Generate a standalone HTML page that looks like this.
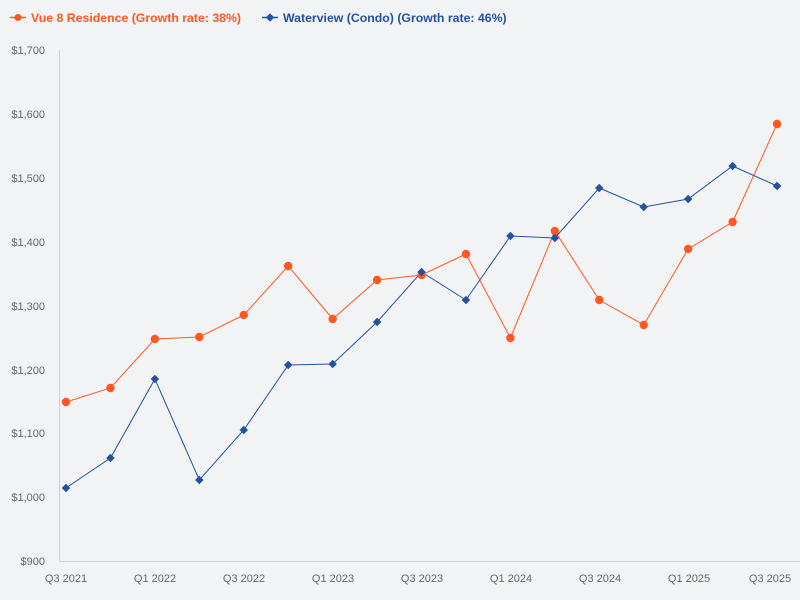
<!DOCTYPE html>
<html><head><meta charset="utf-8"><style>
html,body{margin:0;padding:0;background:#f2f3f5;width:800px;height:600px;overflow:hidden}
svg{display:block;font-family:"Liberation Sans","DejaVu Sans",sans-serif}
</style></head><body>
<svg id="c" width="800" height="600" xmlns="http://www.w3.org/2000/svg">
<rect width="800" height="600" fill="#f2f3f5"/>
<line x1="59.5" y1="50" x2="59.5" y2="561.5" stroke="#c5d3e3" stroke-width="1"/>
<line x1="59.5" y1="561.5" x2="800" y2="561.5" stroke="#c5d3e3" stroke-width="1"/>
<g font-size="11" fill="#666" text-anchor="end">
<text x="45" y="54">$1,700</text>
<text x="45" y="118">$1,600</text>
<text x="45" y="182">$1,500</text>
<text x="45" y="246">$1,400</text>
<text x="45" y="310">$1,300</text>
<text x="45" y="374">$1,200</text>
<text x="45" y="437">$1,100</text>
<text x="45" y="501">$1,000</text>
<text x="45" y="565">$900</text>
</g>
<g font-size="11" fill="#666" text-anchor="middle">
<text x="66" y="582">Q3 2021</text>
<text x="155" y="582">Q1 2022</text>
<text x="244" y="582">Q3 2022</text>
<text x="333" y="582">Q1 2023</text>
<text x="422" y="582">Q3 2023</text>
<text x="511" y="582">Q1 2024</text>
<text x="600" y="582">Q3 2024</text>
<text x="689" y="582">Q1 2025</text>
<text x="770" y="582">Q3 2025</text>
</g>
<g font-size="12.3" font-weight="bold">
<line x1="10" y1="17.5" x2="26" y2="17.5" stroke="#ff5722" stroke-width="1.5"/>
<circle cx="18" cy="17.5" r="3.5" fill="#ff5722"/>
<text x="31" y="22" fill="#ff5722">Vue 8 Residence (Growth rate: 38%)</text>
<line x1="262" y1="17.5" x2="278" y2="17.5" stroke="#2451a0" stroke-width="1.5"/>
<rect x="267" y="14.5" width="6" height="6" fill="#2451a0" transform="rotate(45 270 17.5)"/>
<text x="283" y="22" fill="#2451a0">Waterview (Condo) (Growth rate: 46%)</text>
</g>
<g id="s"></g>
</svg>
<script>
var o=[402,388,339,337,315,266,319,280,275,254,338,231,300,325,249,222,124];
var b=[488,458,379,480,430,365,364,322,272,300,236,238,188,207,199,166,186];
var g=document.getElementById('s'),h='';
function X(i){return 66+i*44.44;}
h+='<polyline fill="none" stroke="#ff5722" stroke-width="1" points="'+o.map(function(y,i){return X(i)+','+y}).join(' ')+'"/>';
h+='<polyline fill="none" stroke="#2451a0" stroke-width="1" points="'+b.map(function(y,i){return X(i)+','+y}).join(' ')+'"/>';
o.forEach(function(y,i){h+='<circle cx="'+X(i)+'" cy="'+y+'" r="4.2" fill="#ff5722"/>';});
b.forEach(function(y,i){var x=X(i);h+='<rect x="'+(x-3)+'" y="'+(y-3)+'" width="6" height="6" fill="#2451a0" transform="rotate(45 '+x+' '+y+')"/>';});
g.innerHTML=h;
</script>
</body></html>
